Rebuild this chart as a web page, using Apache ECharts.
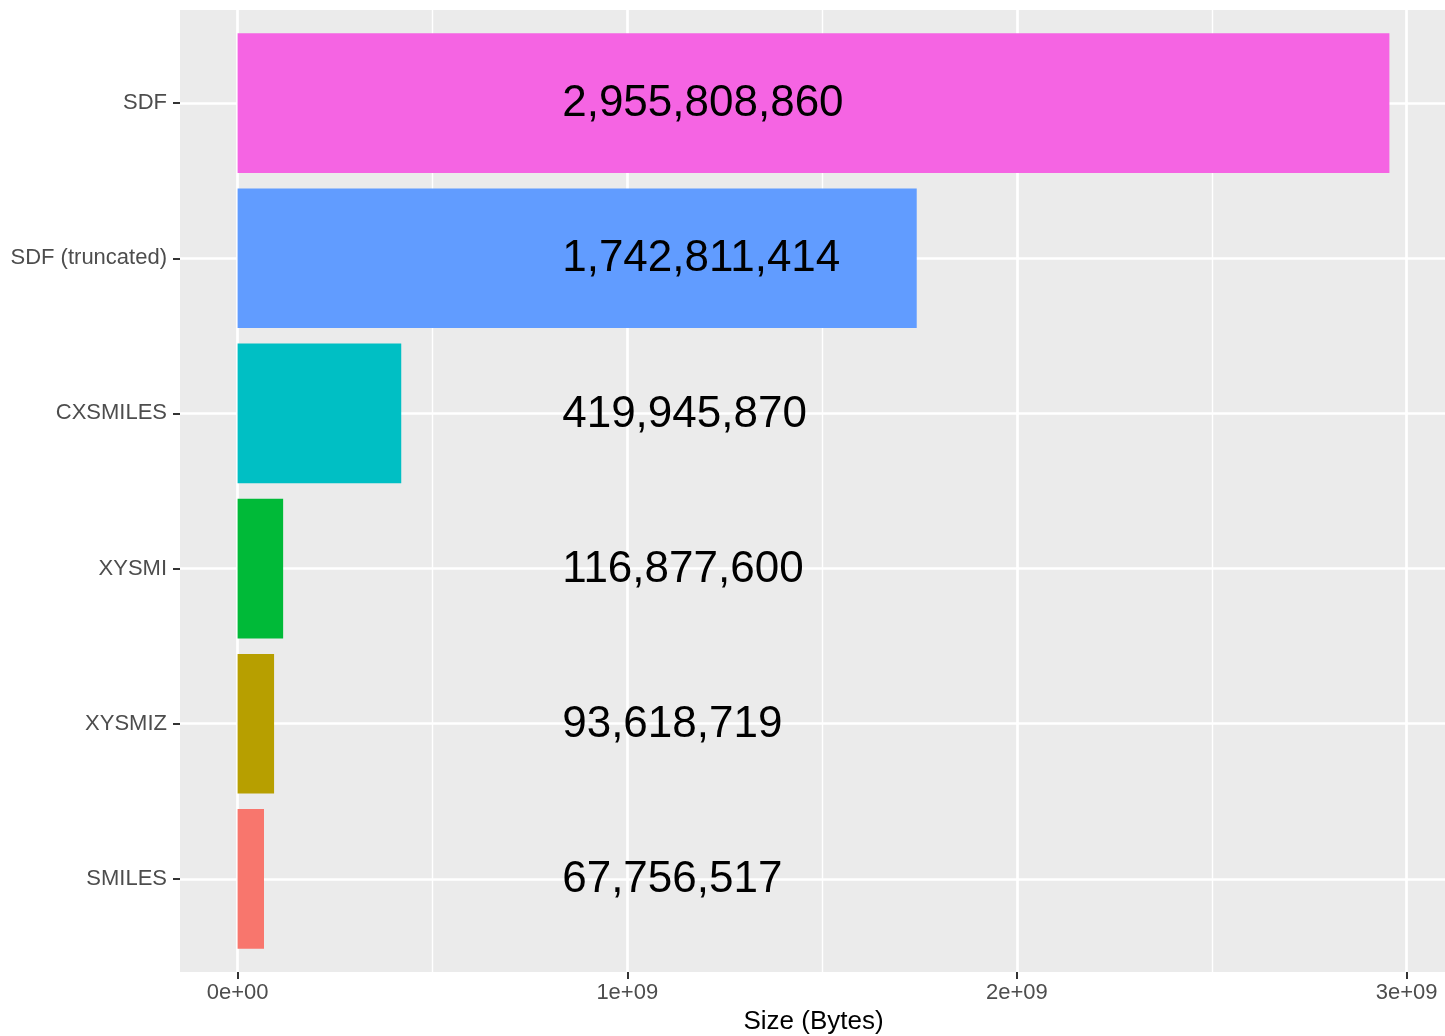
<!DOCTYPE html>
<html>
<head>
<meta charset="utf-8">
<title>File size by format</title>
<script src="https://cdn.jsdelivr.net/npm/echarts@6/dist/echarts.min.js"></script>
<style>
  html, body { margin: 0; padding: 0; background: #fff; }
  #chart { width: 1445px; height: 1036px; }
</style>
</head>
<body>
<div id="chart"></div>
<script>
// categories, bottom to top (as ggplot orders them)
var CATEGORIES = ['SMILES', 'XYSMIZ', 'XYSMI', 'CXSMILES', 'SDF (truncated)', 'SDF'];
var SIZES = [67756517, 93618719, 116877600, 419945870, 1742811414, 2955808860];
var COLORS = ['#F8766D', '#B79F00', '#00BA38', '#00BFC4', '#619CFF', '#F564E3'];

var X_TICKS = [0, 1e9, 2e9, 3e9];
var X_TICK_LABELS = ['0e+00', '1e+09', '2e+09', '3e+09'];
var X_MINOR = [0.5e9, 1.5e9, 2.5e9];
var Y_TICKS = [0, 1, 2, 3, 4, 5];

// layout constants (data units)
var X_MIN = -0.1478e9, X_MAX = 3.1036e9;
var Y_MIN = -0.6, Y_MAX = 5.6;
var BAR_WIDTH = 0.9;
var LABEL_X = 0.833e9;

var FONT = '"Liberation Sans", Arial, Helvetica, sans-serif';

var chart = echarts.init(document.getElementById('chart'));

function renderBar(params, api) {
    var val = api.value(0), idx = api.value(1);
    var start = api.coord([0, idx]);
    var end = api.coord([val, idx]);
    var h = api.size([0, BAR_WIDTH])[1];
    var lp = api.coord([LABEL_X, idx]);
    return {
        type: 'group',
        children: [
            {
                type: 'rect',
                shape: { x: start[0], y: start[1] - h / 2, width: end[0] - start[0], height: h },
                style: { fill: COLORS[idx] }
            },
            {
                type: 'text',
                x: lp[0],
                y: lp[1] + 1,
                z2: 10,
                style: {
                    text: val.toLocaleString('en-US'),
                    fill: '#000',
                    font: '44px ' + FONT,
                    align: 'left',
                    verticalAlign: 'middle'
                }
            }
        ]
    };
}

var option = {
    backgroundColor: '#fff',
    animation: false,
    grid: {
        left: 180,
        top: 10,
        width: 1267,
        height: 962,
        outerBoundsMode: 'none',
        containLabel: false,
        show: true,
        backgroundColor: '#EBEBEB',
        borderWidth: 0
    },
    xAxis: [
        {
            type: 'value',
            min: X_MIN,
            max: X_MAX,
            position: 'bottom',
            name: 'Size (Bytes)',
            nameLocation: 'middle',
            nameGap: 36,
            nameTextStyle: { color: '#000', fontSize: 26, fontFamily: FONT },
            axisLine: { show: false, onZero: false },
            axisTick: {
                show: true, length: 7, inside: false, customValues: X_TICKS,
                lineStyle: { color: '#333333', width: 2 }
            },
            axisLabel: {
                customValues: X_TICKS,
                margin: 10,
                color: '#4D4D4D',
                fontSize: 22,
                fontFamily: FONT,
                formatter: function (v) {
                    return X_TICK_LABELS[X_TICKS.indexOf(v)];
                }
            },
            splitLine: { show: true, lineStyle: { color: '#fff', width: 2.7 } }
        },
        {
            type: 'value',
            min: X_MIN,
            max: X_MAX,
            position: 'top',
            axisLine: { show: false, onZero: false },
            axisTick: { show: false, customValues: X_MINOR },
            axisLabel: { show: false, customValues: X_MINOR },
            splitLine: { show: true, lineStyle: { color: '#fff', width: 1.4 } }
        }
    ],
    yAxis: {
        type: 'value',
        min: Y_MIN,
        max: Y_MAX,
        position: 'left',
        axisLine: { show: false, onZero: false },
        axisTick: {
            show: true, length: 7, customValues: Y_TICKS,
            lineStyle: { color: '#333333', width: 2 }
        },
        axisLabel: {
            customValues: Y_TICKS,
            margin: 13,
            color: '#4D4D4D',
            fontSize: 22,
            fontFamily: FONT,
            formatter: function (v) {
                return CATEGORIES[v];
            }
        },
        splitLine: { show: true, lineStyle: { color: '#fff', width: 2.7 } }
    },
    series: [
        {
            type: 'custom',
            renderItem: renderBar,
            clip: true,
            encode: { x: 0, y: 1 },
            data: SIZES.map(function (s, i) { return [s, i]; }),
            z: 5
        }
    ]
};

chart.setOption(option);
</script>
</body>
</html>
